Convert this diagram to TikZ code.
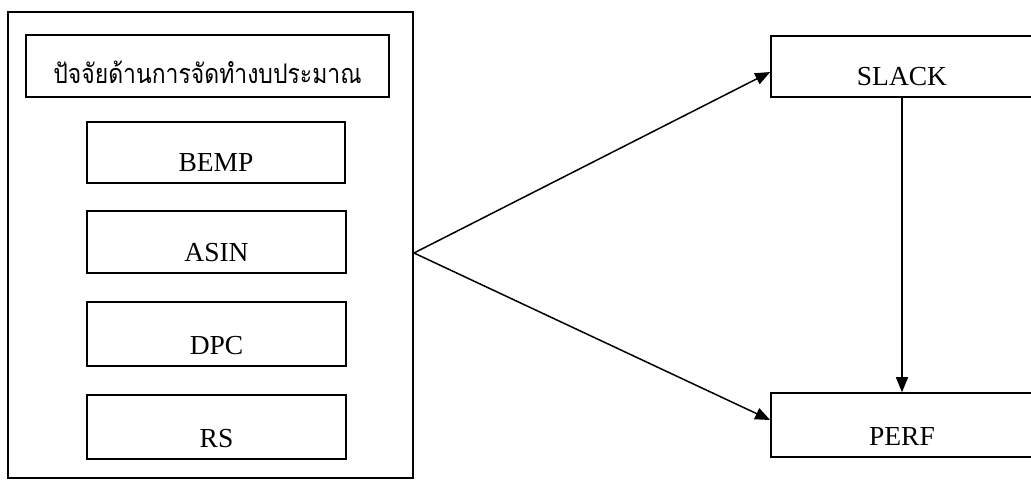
\documentclass[tikz,border=0pt]{standalone}
\usepackage{fontspec}
\setmainfont{Liberation Serif}
\newfontfamily\thaifont[Script=Thai,FakeStretch=0.85]{Loma}
\usetikzlibrary{arrows.meta}
\begin{document}
\begin{tikzpicture}[x=1pt,y=-1pt,
  frame/.style={draw, line width=1.6pt, inner sep=0pt},
  box/.style={draw, line width=1.6pt, inner xsep=0pt, inner ysep=0pt, text depth=12pt,
    font=\fontsize{27.5}{30}\selectfont},
  arr/.style={line width=1.5pt, -{Triangle[length=15pt,width=12pt]}}]
\useasboundingbox (0,0) rectangle (1031,480);
\node[frame, minimum width=405pt, minimum height=466pt] (outer) at (210.5,245) {};
\node[box, minimum width=363pt, text height=48pt, text depth=14pt, font=\thaifont\fontsize{27}{30}\selectfont] (title) at (207.5,66) {ปัจจัยด้านการจัดทำงบประมาณ};
\node[box, minimum width=258pt, text height=49pt] (bemp) at (216,152.5) {BEMP};
\node[box, minimum width=259pt, text height=50pt] (asin) at (216.5,242) {ASIN};
\node[box, minimum width=259pt, text height=52pt] (dpc) at (216.5,334) {DPC};
\node[box, minimum width=259pt, text height=52pt] (rs) at (216.5,427) {RS};
\node[box, minimum width=262pt, text height=49pt] (slack) at (902,66.5) {SLACK};
\node[box, minimum width=262pt, text height=52pt] (perf) at (902,425) {PERF};
\coordinate (src) at (414,253);
\draw[arr] (src) -- ([yshift=-5.5pt]slack.west);
\draw[arr] (src) -- ([yshift=5pt]perf.west);
\draw[arr] (slack.south) -- (perf.north);
\end{tikzpicture}
\end{document}
